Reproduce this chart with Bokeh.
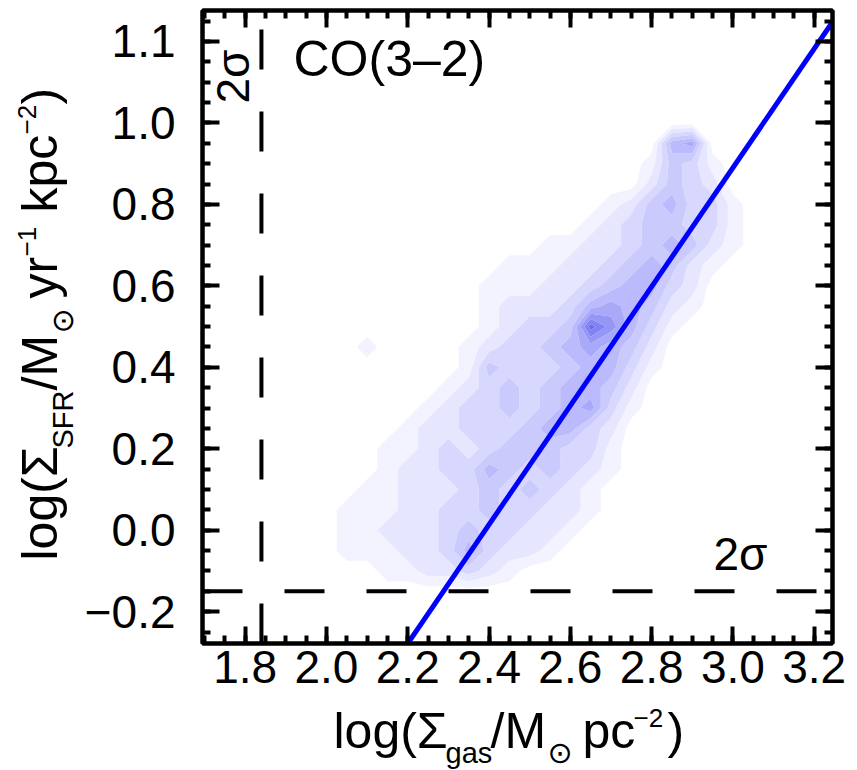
import math
import numpy as np
from bokeh.plotting import figure
from bokeh.models import Label, LinearAxis, FixedTicker, PrintfTickFormatter, Range1d
from bokeh.layouts import row, column
from bokeh.embed import file_html
from bokeh.resources import INLINE

# ---------------- data ----------------
X_TICKS = [1.8, 2.0, 2.2, 2.4, 2.6, 2.8, 3.0, 3.2]
Y_TICKS = [-0.2, 0.0, 0.2, 0.4, 0.6, 0.8, 1.0, 1.2]
Y_TICK_TEXT = {-0.2: "\u22120.2", 1.2: "1.1"}

SIGMA_GAS = 1.84      # 2-sigma limit in log(Sigma_gas)
SIGMA_SFR = -0.15     # 2-sigma limit in log(Sigma_SFR)
FIT_SLOPE = 1.46
FIT_INTERCEPT = -3.49

# density grid of the pixel distribution (levels 0-9), rows from y=-0.15 to 1.00, step 0.05
GRID_X0, GRID_Y0, GRID_STEP = 1.95, -0.15, 0.05
DENSITY_ROWS = [
    "000000000000000000000000",  # -0.15
    "000011223210000000000000",  # -0.10
    "001112235322100000000000",  # -0.05
    "001122234332210000000000",  #  0.00
    "001112233433221000000000",  #  0.05
    "000112223434321000000000",  #  0.10
    "000012233543432100000000",  #  0.15
    "000011232344433100000000",  #  0.20
    "000001223334553200000000",  #  0.25
    "000000123343456310000000",  #  0.30
    "000000012343455420000000",  #  0.35
    "000000001433345531000000",  #  0.40
    "000100001233456542000000",  #  0.45
    "000000000123349753100000",  #  0.50
    "000000000122235654210000",  #  0.55
    "000000000111223455320000",  #  0.60
    "000000000011122345421000",  #  0.65
    "000000000000112234542100",  #  0.70
    "000000000000001234433100",  #  0.75
    "000000000000000124533100",  #  0.80
    "000000000000000002432000",  #  0.85
    "000000000000000001431000",  #  0.90
    "000000000000000000560000",  #  0.95
    "000000000000000000000000",  #  1.00
]
LEVELS = [0.5, 1.5, 2.5, 3.5, 4.5, 5.5, 6.5, 7.5, 8.5, 9.5]
PALETTE = ["#f3f3ff", "#e6e6ff", "#d8d8ff", "#cacafd", "#babafc",
           "#a9a9fa", "#9696f7", "#8282f3", "#6c6cef"]

# ---------------- layout ----------------
X0, X1 = 1.695, 3.245
Y0, Y1 = -0.278, 1.276
W, H = 857, 770
LW = 80              # width of the strip holding the y title
BH = 68              # height of the strip holding the x title
FL, FR, FT, FB = 202, 832, 10, 643   # frame edges in page pixels
FONT = "Liberation Sans"
SYM_FONT = "DejaVu Sans"

p = figure(width=W - LW, height=H - BH, x_range=Range1d(X0, X1), y_range=Range1d(Y0, Y1),
           output_backend="svg", toolbar_location=None,
           min_border_left=FL - LW, min_border_right=W - FR,
           min_border_top=FT, min_border_bottom=H - BH - FB)
p.background_fill_color = "white"
p.border_fill_color = "white"
p.outline_line_color = "black"
p.outline_line_width = 4
p.grid.visible = False

x_minor = [round(1.70 + 0.05 * i, 2) for i in range(31)]
y_minor = [round(-0.25 + 0.05 * i, 2) for i in range(31)]

xa = p.below[0]
ya = p.left[0]
xa.ticker = FixedTicker(ticks=X_TICKS, minor_ticks=x_minor)
ya.ticker = FixedTicker(ticks=Y_TICKS, minor_ticks=y_minor)
xa.formatter = PrintfTickFormatter(format="%.1f")
ya.formatter = PrintfTickFormatter(format="%.1f")
ya.major_label_overrides = Y_TICK_TEXT

top = LinearAxis(ticker=FixedTicker(ticks=X_TICKS, minor_ticks=x_minor))
right = LinearAxis(ticker=FixedTicker(ticks=Y_TICKS, minor_ticks=y_minor))
p.add_layout(top, "above")
p.add_layout(right, "right")

for ax in [xa, ya, top, right]:
    ax.axis_line_width = 4
    ax.axis_line_color = "black"
    ax.major_tick_line_width = 4
    ax.minor_tick_line_width = 4
    ax.major_tick_in = 17
    ax.major_tick_out = 0
    ax.minor_tick_in = 8
    ax.minor_tick_out = 0
    ax.major_label_text_font = FONT
    ax.major_label_text_font_size = "46px"
    ax.major_label_text_color = "black"

for ax in [top, right]:
    ax.major_label_text_font_size = "1px"
    ax.major_label_text_alpha = 0
    ax.major_label_standoff = 0

xa.major_label_standoff = 7
ya.major_label_standoff = 27

# ---------------- density contours ----------------
z = np.array([[int(c) for c in r] for r in DENSITY_ROWS], dtype=float)
gx = GRID_X0 + GRID_STEP * np.arange(z.shape[1])
gy = GRID_Y0 + GRID_STEP * np.arange(z.shape[0])
xx, yy = np.meshgrid(gx, gy)
p.contour(xx, yy, z, levels=LEVELS, fill_color=PALETTE, line_color=None)

# ---------------- 2-sigma limits and fit ----------------
p.line([SIGMA_GAS, SIGMA_GAS], [Y0, Y1], line_color="black", line_width=4, line_dash="40 42")
p.line([X0, X1], [SIGMA_SFR, SIGMA_SFR], line_color="black", line_width=4, line_dash="40 42")
fx = np.array([X0, X1])
p.line(fx, FIT_SLOPE * fx + FIT_INTERCEPT, line_color="#0000ff", line_width=5)

# ---------------- side strips for the axis titles ----------------
def strip(w, h, xr, yr, bl=0, br=0):
    f = figure(width=w, height=h, x_range=Range1d(*xr), y_range=Range1d(*yr),
               output_backend="svg", toolbar_location=None,
               x_axis_location=None, y_axis_location=None,
               min_border=0, min_border_left=bl, min_border_right=br,
               min_border_top=0, min_border_bottom=0)
    f.outline_line_color = None
    f.grid.visible = False
    f.background_fill_color = "white"
    f.border_fill_color = "white"
    return f

left_fig = strip(LW, H, (0, LW), (H, 0))      # coordinates = page pixels
bottom_fig = strip(W - LW, BH, (FL, FR), (H, H - BH), bl=FL - LW, br=W - FR)

# ---------------- texts ----------------
def place(fig, x, y, text, size, font, angle, conv):
    c = 0.37 * size   # baseline correction of Bokeh's text box
    if angle == 0:
        px, py = x, y - c
    else:
        px, py = x - c, y
    lx, ly = conv(px, py)
    fig.add_layout(Label(x=lx, y=ly, text=text, text_font=font,
                         text_font_size=f"{size}px", text_color="black",
                         text_baseline="alphabetic", text_align="left", angle=angle))

def to_main(px, py):
    return (X0 + (px - FL) * (X1 - X0) / (FR - FL),
            Y0 + (FB - py) * (Y1 - Y0) / (FB - FT))

def to_page(px, py):
    return (px, py)

place(p, 293, 77, "CO(3\u20132)", 50, FONT, 0, to_main)
place(p, 713, 571, "2\u03c3", 46, FONT, 0, to_main)
place(p, 250, 103, "2\u03c3", 46, FONT, math.pi / 2, to_main)

# x title
XS, XB = 333, 749
x_parts = [("log(\u03a3", 0, 50, 0, FONT), ("gas", 112, 29, 14, FONT),
           ("/M", 157, 50, 0, FONT), ("\u2299", 214, 30, 14, SYM_FONT),
           ("pc", 249, 50, 0, FONT), ("\u22122", 300, 26, -22, FONT),
           (")", 334, 50, 0, FONT)]
for t, off, size, shift, font in x_parts:
    place(bottom_fig, XS + off, XB + shift, t, size, font, 0, to_page)

# y title (rotated)
YS, YB = 560, 58
y_parts = [("log(\u03a3", 0, 50, 0, FONT), ("SFR", 112, 29, 15, FONT),
           ("/M", 170, 50, 0, FONT), ("\u2299", 227, 30, 15, SYM_FONT),
           ("yr", 262, 50, 0, FONT), ("\u22121", 304, 26, -22, FONT),
           ("kpc", 348, 50, 0, FONT), ("\u22122", 426, 26, -22, FONT),
           (")", 456, 50, 0, FONT)]
for t, off, size, shift, font in y_parts:
    place(left_fig, YB + shift, YS - off, t, size, font, math.pi / 2, to_page)

layout = row(left_fig, column(p, bottom_fig))
open("out.html", "w").write(file_html(layout, INLINE))
